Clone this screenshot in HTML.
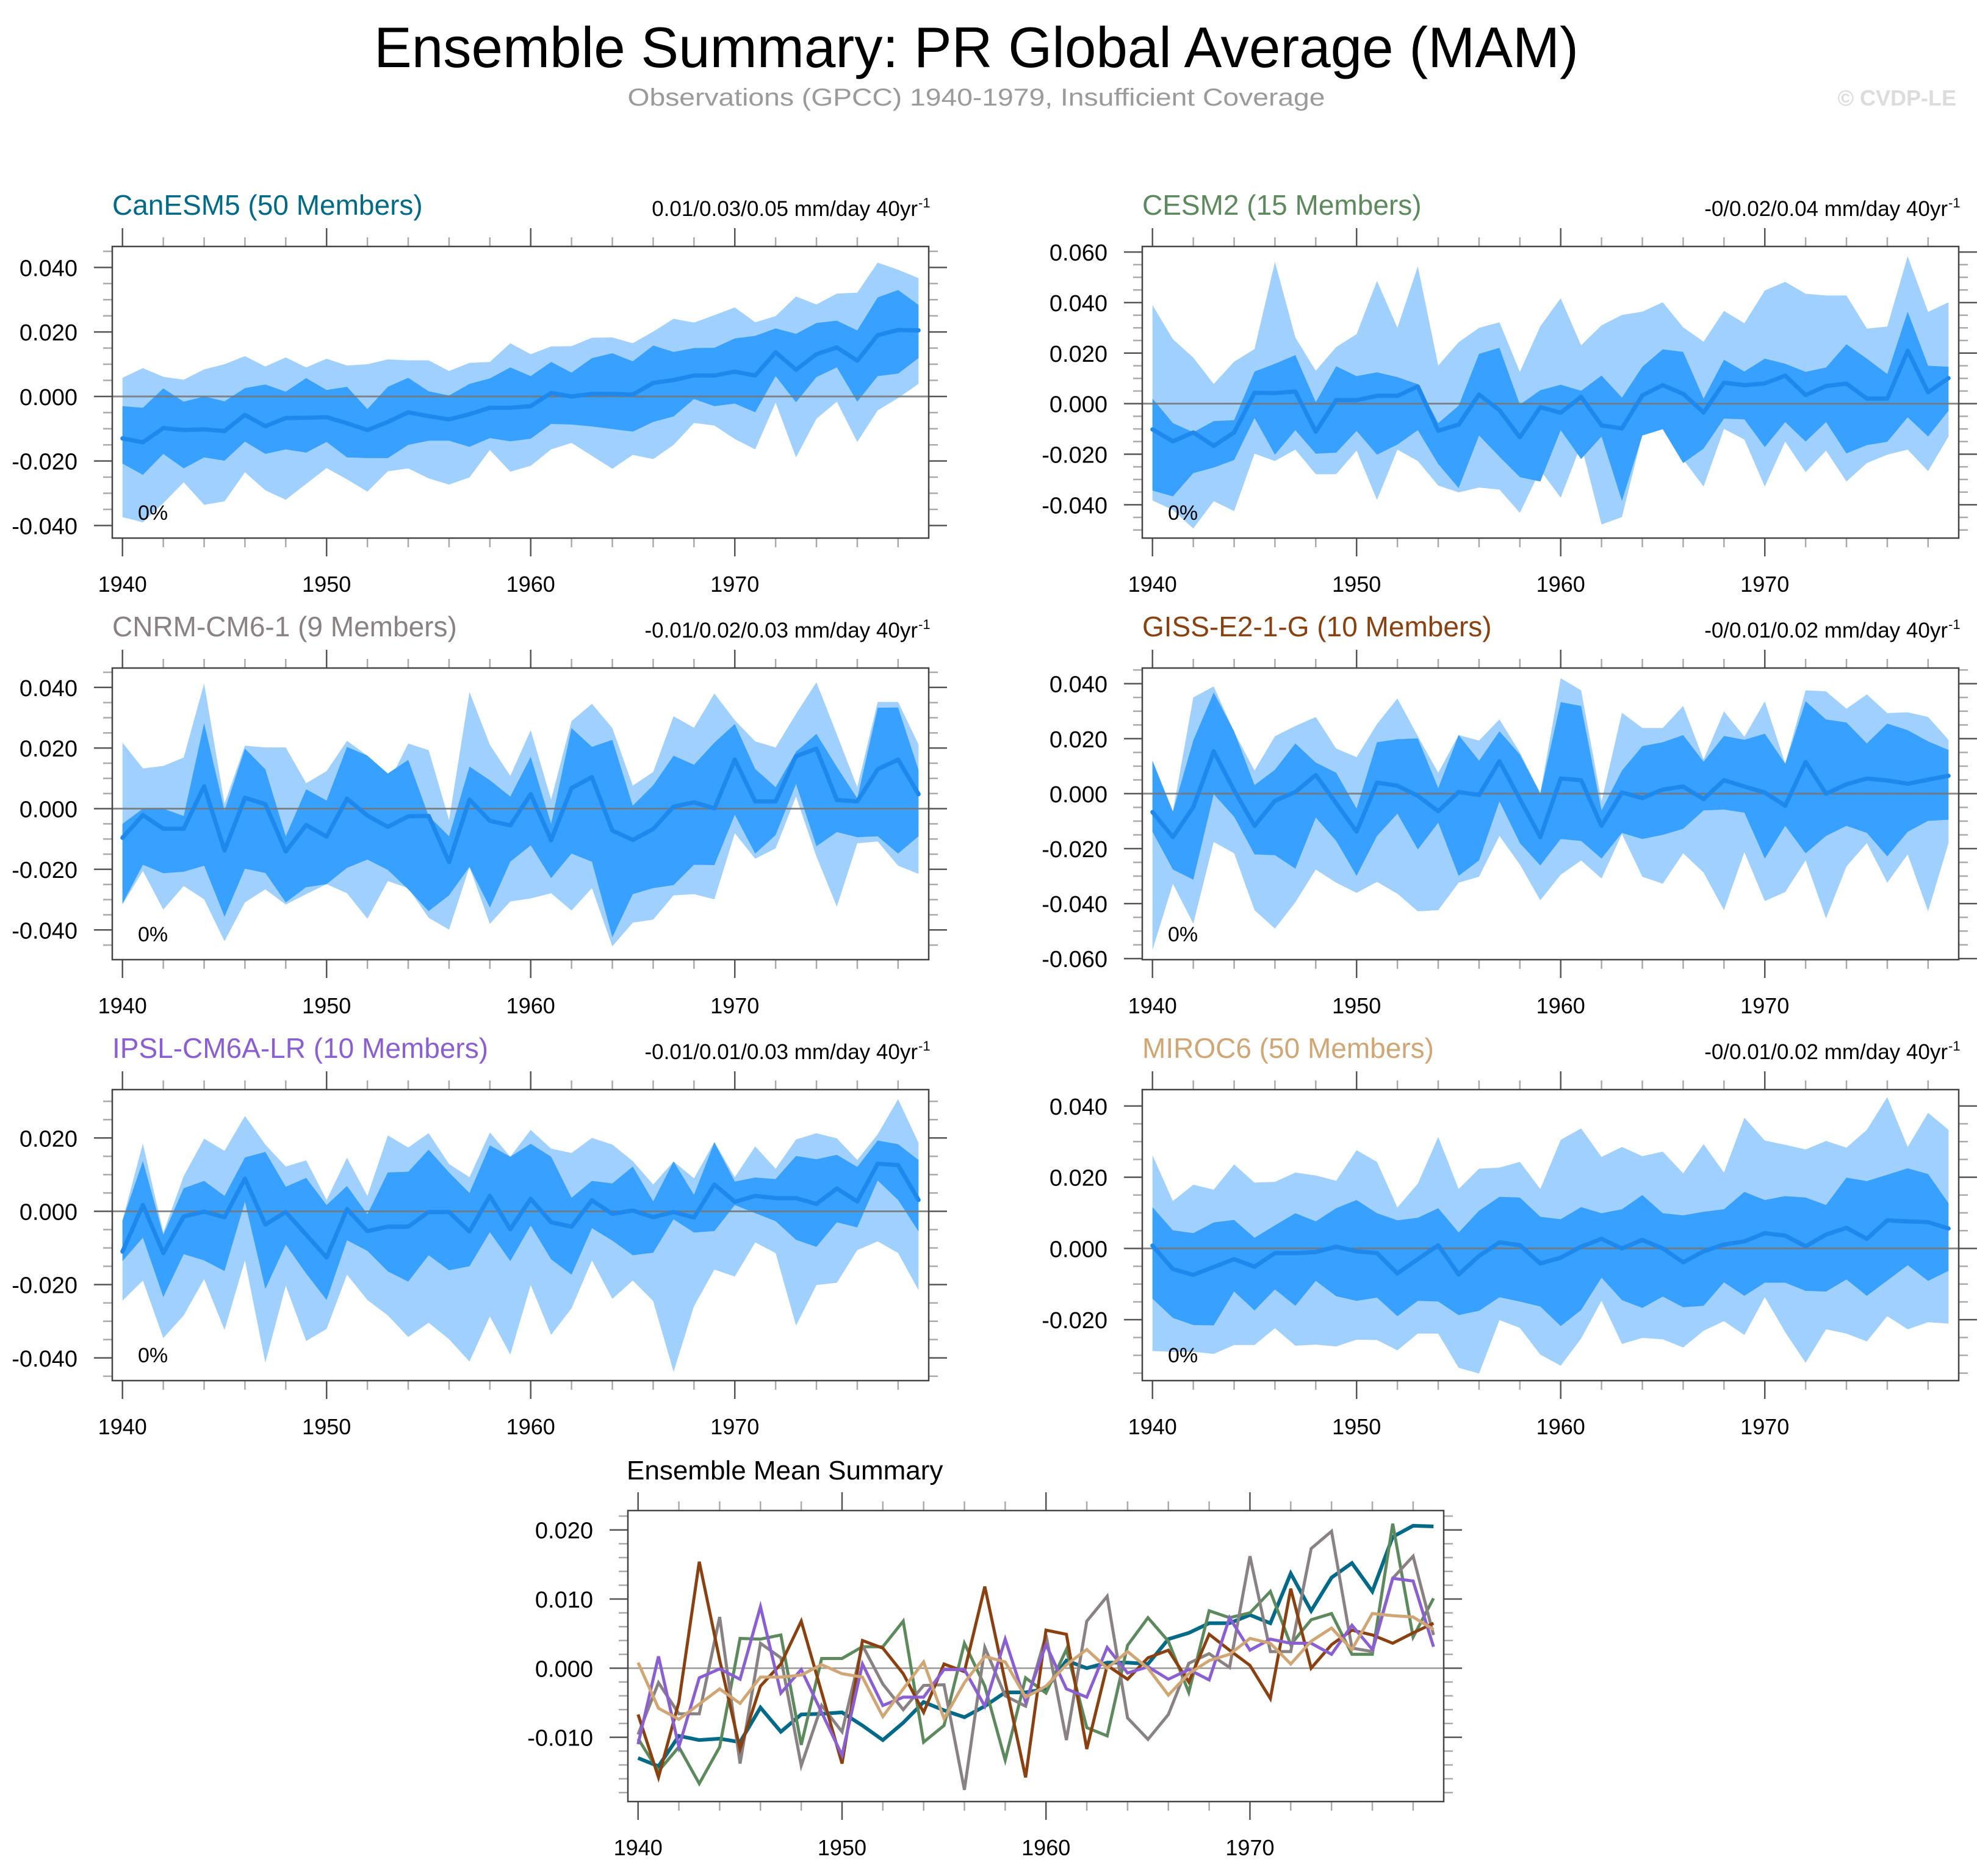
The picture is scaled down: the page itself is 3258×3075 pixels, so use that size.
<!DOCTYPE html>
<html><head><meta charset="utf-8">
<style>
html,body{margin:0;padding:0;background:#fff;}
svg{display:block;font-family:"Liberation Sans",Arial,sans-serif;}
</style></head>
<body>
<svg id="chart" width="3258" height="3075" viewBox="0 0 3258 3075" xmlns="http://www.w3.org/2000/svg">
<text x="1600" y="110" font-size="94" text-anchor="middle" textLength="1974" lengthAdjust="spacingAndGlyphs" fill="#000">Ensemble Summary: PR Global Average (MAM)</text>
<text x="1600" y="173" font-size="40" text-anchor="middle" textLength="1143" lengthAdjust="spacingAndGlyphs" fill="#9a9a9a">Observations (GPCC) 1940-1979, Insufficient Coverage</text>
<text x="3206" y="173" font-size="36" font-weight="bold" text-anchor="end" fill="#dcdcdc">© CVDP-LE</text>
</svg>
<script>
// ---------- data (values in units of 0.001 mm/day) ----------
const years = [1940,1941,1942,1943,1944,1945,1946,1947,1948,1949,1950,1951,1952,1953,1954,1955,1956,1957,1958,1959,1960,1961,1962,1963,1964,1965,1966,1967,1968,1969,1970,1971,1972,1973,1974,1975,1976,1977,1978,1979];

const canMean = [-13.0,-14.2,-9.8,-10.4,-10.2,-10.7,-5.7,-9.2,-6.7,-6.6,-6.4,-8.3,-10.4,-7.9,-4.9,-6.1,-7.1,-5.5,-3.5,-3.5,-3.0,1.1,0.0,0.8,0.8,0.6,4.2,5.1,6.5,6.5,7.7,6.5,13.7,8.3,13.1,15.2,11.1,19.0,20.6,20.5];
const canMax = [5.8,8.8,6.1,5.2,8.4,10.0,12.5,9.3,12.1,9.0,11.7,9.6,10.0,11.5,11.2,11.2,7.9,10.4,10.7,16.5,13.1,15.5,15.6,18.2,18.3,16.5,20.1,24.1,22.9,25.2,27.6,23.0,24.9,31.0,28.5,31.9,32.2,41.5,39.3,36.7];
const canP90 = [-3.0,-3.5,2.5,-1.6,0,-1.5,2.6,3.7,1.5,5.7,2.0,3.0,-3.9,3.0,5.8,1.6,0.3,3.9,5.6,9.0,6.3,10.7,7.4,11.9,13.4,10.9,15.8,13.8,15.0,15.1,18.0,18.8,21.1,19.4,22.8,23.5,20.5,30.7,33.0,28.4];
const canP10 = [-20.8,-24.3,-17.8,-22.3,-18.9,-19.9,-14.0,-17.8,-16.4,-17.4,-14.1,-18.9,-19.1,-19.1,-15.0,-13.7,-13.7,-15.6,-12.9,-13.9,-13.1,-8.5,-8.7,-9.3,-10.1,-10.9,-7.9,-6.2,-0.8,-3.0,-2.2,-4.9,6.3,-1.8,6.0,9.0,-1.6,6.3,7.1,11.9];
const canMin = [-37.4,-39.0,-33.1,-26.6,-33.6,-32.5,-23.5,-29.1,-32.0,-27.1,-22.2,-25.7,-29.5,-23.2,-22.3,-25.4,-27.3,-25.1,-16.6,-23.3,-21.5,-16.4,-14.4,-18.4,-22.4,-18.1,-19.4,-15.0,-8.2,-9.0,-13.2,-16.4,-1.9,-18.9,-6.9,-1.6,-14.1,-4.3,-0.5,3.9];

const cesmMean = [-10.2,-14.9,-11.4,-16.7,-11.4,4.3,4.2,4.8,-11.1,1.4,1.4,3.1,3.1,6.8,-10.7,-8.3,3.6,-2.6,-13.3,-1.4,-3.6,2.7,-8.6,-9.8,3.3,7.3,3.9,-3.5,8.3,7.3,8.0,11.1,3.4,7.0,7.9,2.0,2.0,20.9,4.5,10.1];
const cesmMax = [39.0,25.5,18.2,7.8,16.6,21.6,56.1,26.2,13.0,22.4,27.5,48.6,30.0,54.3,15.1,24.3,30.0,32.2,12.6,30.6,41.7,23.1,31.0,35.1,36.4,40.1,30.2,24.5,36.7,31.8,44.8,48.2,43.5,42.8,42.8,29.7,30.5,58.3,36.3,40.1];
const cesmP90 = [2.0,-7.7,-11.3,-6.9,-6.5,12.7,15.8,19.2,0.6,14.8,10.9,12.4,10.5,7.7,-7.7,-0.8,19.7,22.1,-0.4,5.3,7.5,5.1,11.1,2.4,14.6,21.5,20.5,2.0,17.4,12.7,17.8,15.8,12.6,14.3,23.5,17.8,11.7,36.4,15.0,14.6];
const cesmP10 = [-34.4,-36.7,-27.5,-25.3,-22.3,-5.7,-20.2,-10.5,-19.8,-19.4,-10.8,-20.2,-16.2,-10.5,-23.9,-33.4,-12.6,-21.0,-29.1,-30.8,-10.5,-21.9,-13.0,-38.5,-12.6,-10.1,-23.5,-17.8,-5.9,-6.2,-17.2,-7.3,-15.0,-7.3,-19.7,-16.4,-15.1,-5.4,-13.0,-2.8];
const cesmMin = [-38.3,-42.1,-49.4,-38.6,-42.5,-19.8,-22.7,-18.2,-27.9,-27.9,-18.6,-38.1,-18.2,-22.7,-32.4,-35.1,-33.2,-34.0,-43.2,-26.3,-37.2,-16.2,-47.8,-44.9,-12.1,-9.7,-22.1,-32.8,-10.0,-14.2,-32.8,-15.0,-27.1,-18.6,-30.8,-23.5,-20.2,-18.2,-26.7,-13.0];

const cnrmMean = [-9.6,-2.1,-6.6,-6.6,7.4,-13.8,3.6,1.5,-14.1,-5.4,-9.2,3.3,-2.3,-6.0,-2.5,-2.4,-17.6,3.0,-4.0,-5.5,4.8,-10.4,6.8,10.4,-7.2,-10.3,-6.7,0.7,2.1,0.1,16.2,2.4,2.4,17.3,19.8,2.9,2.4,13.0,16.2,4.8];
const cnrmMax = [21.8,13.3,14.1,16.9,41.3,1.7,20.8,20.2,20.2,8.4,12.4,22.4,17.5,8.1,21.5,19.3,-3.7,38.5,21.1,10.8,25.9,3.0,28.9,34.6,26.6,7.6,12.1,30.5,26.7,38.0,29.2,22.2,20.2,31.3,41.7,24.5,7.1,35.2,35.2,21.2];
const cnrmP90 = [-5.0,0,0,-2.4,28.2,-0.7,19.8,13.0,-9.1,6.4,2.7,20.4,17.5,11.6,16.1,-2.4,-9.1,13.9,9.4,4.0,17.1,-5.0,26.6,20.4,22.7,1.0,7.7,17.5,14.5,21.8,27.9,13.1,7.1,18.8,24.7,13.8,3.4,33.3,33.4,12.8];
const cnrmP10 = [-31.3,-18.5,-21.3,-20.8,-18.8,-35.6,-19.8,-21.2,-30.9,-25.9,-24.9,-19.5,-16.8,-20.2,-26.6,-33.8,-28.6,-19.2,-32.6,-17.5,-12.1,-22.9,-14.8,-17.5,-42.4,-28.2,-26.2,-25.2,-18.5,-18.6,-2.0,-14.8,-8.7,8.1,-12.4,-7.7,-9.4,-9.1,-14.8,-9.1];
const cnrmMin = [-31.6,-20.5,-33.3,-25.5,-29.9,-43.7,-30.9,-26.6,-31.6,-28.2,-24.9,-27.9,-36.3,-23.9,-26.2,-36.0,-39.9,-19.2,-38.0,-30.6,-29.6,-27.9,-33.6,-26.2,-45.4,-37.6,-36.6,-28.6,-28.2,-29.9,-8.1,-16.5,-13.1,4.0,-15.8,-32.3,-11.4,-10.8,-18.8,-21.5];

const gissMean = [-6.7,-15.8,-4.9,15.4,1.2,-11.7,-2.6,0.6,6.8,-3.5,-13.8,4.0,2.9,-0.8,-6.4,0.6,-0.5,11.8,-2.0,-15.8,5.5,4.9,-11.7,0.4,-1.6,1.5,2.6,-2.0,4.9,2.6,0.4,-4.4,11.5,0.0,3.4,5.5,4.8,3.6,5.1,6.5];
const gissMax = [12.0,-6.5,35.0,39.0,22.4,8.4,20.9,24.6,27.9,16.4,13.3,25.3,34.6,20.9,7.6,21.3,19.3,27.0,15.0,0.1,42.0,37.6,-2.8,29.4,23.9,23.9,31.9,12.4,29.9,20.7,33.6,10.9,37.6,37.2,30.9,36.1,29.3,29.6,27.9,19.6];
const gissP90 = [12.0,-6.5,19.4,36.8,22.7,3.1,8.7,18.3,11.3,7.6,-5.4,18.7,19.8,20.1,2.0,21.3,12.0,22.7,14.2,0.1,33.3,31.9,-6.1,8.4,17.3,18.7,21.3,11.6,21.0,19.6,21.8,10.9,33.6,27.0,25.9,18.3,25.5,23.1,19.0,15.9];
const gissP10 = [-13.9,-27.6,-31.3,-0.2,-8.4,-22.1,-22.4,-27.3,-8.7,-17.2,-29.9,-15.4,-7.3,-20.3,-10.6,-29.9,-24.3,-2.8,-18.0,-26.1,-16.5,-17.2,-23.6,-14.3,-16.5,-15.0,-12.8,-6.1,-5.8,-6.9,-23.6,-11.7,-21.7,-15.4,-11.7,-14.3,-22.8,-13.9,-9.9,-9.5];
const gissMin = [-56.9,-32.8,-47.3,-17.6,-21.7,-42.4,-49.1,-39.5,-27.6,-32.4,-36.1,-32.1,-36.4,-42.8,-42.4,-32.4,-30.2,-15.4,-25.8,-38.8,-29.5,-24.3,-30.9,-14.7,-30.2,-32.8,-21.7,-28.7,-42.4,-21.3,-39.1,-35.8,-24.3,-45.4,-26.5,-18.0,-32.4,-22.1,-42.8,-18.0];

const ipslMean = [-11.0,1.7,-11.4,-1.4,-0.1,-1.6,8.9,-3.6,-0.2,-6.4,-12.6,0.6,-5.4,-4.2,-4.2,-0.2,-0.2,-5.5,4.2,-4.9,3.4,-3.0,-4.2,3.0,-0.7,0.2,-1.6,-0.2,-1.7,7.3,2.6,4.2,3.6,3.6,2.0,6.2,2.7,13.0,12.6,3.1];
const ipslMax = [-2.5,18.5,-5.8,9.6,19.8,16.5,26.0,18.2,12.2,13.9,3.1,14.6,4.2,20.7,17.4,21.3,12.9,9.3,21.5,14.9,22.2,17.1,15.9,20.0,18.2,13.7,7.3,13.6,9.0,18.9,9.3,17.7,11.6,19.6,21.3,19.9,14.0,21.0,30.6,18.7];
const ipslP90 = [-2.5,13.7,-6.4,6.3,8.3,4.2,14.7,16.2,6.7,9.1,1.7,6.9,-0.8,10.6,10.8,16.8,10.6,5.0,18.0,14.9,18.4,14.9,3.7,8.3,7.6,12.2,2.7,13.6,4.5,18.8,8.1,9.2,8.8,15.1,14.2,15.4,12.1,19.3,18.3,14.0];
const ipslP10 = [-13.6,-7.2,-23.4,-11.7,-13.4,-16.3,2.6,-21.2,-9.1,-17.0,-24.2,-7.9,-10.8,-16.4,-19.2,-12.0,-16.1,-15.0,-5.7,-13.6,-3.9,-13.1,-17.3,-4.6,-8.0,-12.0,-11.3,-2.2,-5.8,-5.4,1.7,-0.5,-2.7,-7.8,-9.7,-3.0,-4.4,8.4,3.1,-5.5];
const ipslMin = [-24.4,-18.9,-34.6,-28.4,-18.5,-32.4,-13.4,-41.3,-20.3,-35.4,-32.1,-17.3,-24.2,-28.4,-34.3,-30.4,-34.9,-41.0,-28.7,-39.1,-20.1,-33.7,-26.5,-13.4,-23.9,-18.9,-24.5,-43.8,-25.9,-15.9,-17.8,-8.5,-11.4,-31.2,-20.1,-19.5,-10.6,-8.2,-11.4,-21.5];

const mirocMean = [0.8,-5.8,-7.4,-5.2,-3.0,-5.1,-1.3,-1.3,-1.0,0.5,-0.8,-1.3,-7.0,-3.0,0.9,-7.3,-2.1,1.7,0.9,-4.2,-2.6,0.5,2.7,0.0,2.4,0.0,-3.9,-0.8,1.1,2.0,4.3,3.6,0.6,3.9,5.8,2.7,7.9,7.6,7.4,5.6];
const mirocMax = [26.2,13.3,17.9,16.5,23.6,18.5,18.7,21.3,20.5,19.0,27.6,24.3,11.5,18.2,31.3,16.7,22.4,22.7,24.3,16.7,30.5,33.7,25.7,28.5,25.9,27.2,21.1,29.3,21.3,36.7,30.3,29.1,27.8,30.2,28.3,33.3,42.5,28.5,38.1,33.3];
const mirocP90 = [11.6,5.1,4.3,7.3,8.0,3.0,6.5,9.9,7.6,11.3,13.6,9.9,7.9,8.6,11.3,4.5,10.6,14.5,14.3,8.9,8.2,11.6,9.9,11.0,15.0,9.9,9.3,10.3,11.0,15.9,13.6,14.7,14.3,12.2,19.9,18.9,20.7,22.5,20.9,12.7];
const mirocP10 = [-14.1,-19.5,-21.5,-21.6,-12.1,-17.4,-11.5,-16.1,-9.1,-13.4,-14.7,-13.8,-19.0,-14.7,-14.9,-18.7,-17.5,-13.7,-14.9,-16.3,-21.8,-17.3,-8.2,-14.5,-16.7,-13.5,-16.5,-16.1,-9.5,-13.3,-9.6,-9.6,-11.9,-12.1,-8.7,-13.3,-9.0,-4.7,-9.1,-6.3];
const mirocMin = [-28.8,-29.0,-29.0,-29.6,-27.1,-27.1,-22.4,-27.3,-27.0,-27.5,-25.6,-25.7,-28.6,-23.9,-23.9,-33.5,-35.1,-20.1,-22.3,-29.8,-32.9,-25.3,-14.7,-26.8,-25.1,-25.5,-27.8,-23.1,-20.4,-24.3,-13.7,-23.5,-32.1,-22.7,-23.9,-26.1,-19.0,-22.7,-20.7,-21.1];

const modelNames = ["CanESM5 (50 Members)","CESM2 (15 Members)","CNRM-CM6-1 (9 Members)","GISS-E2-1-G (10 Members)","IPSL-CM6A-LR (10 Members)","MIROC6 (50 Members)"];
const trendLabels = ["0.01/0.03/0.05 mm/day 40yr","-0/0.02/0.04 mm/day 40yr","-0.01/0.02/0.03 mm/day 40yr","-0/0.01/0.02 mm/day 40yr","-0.01/0.01/0.03 mm/day 40yr","-0/0.01/0.02 mm/day 40yr"];
const yTicks1 = [-40,-20,0,20,40];
const yTicks2 = [-40,-20,0,20,40,60];
const yTicks3 = [-40,-20,0,20,40];
const yTicks4 = [-60,-40,-20,0,20,40];
const yTicks5 = [-40,-20,0,20];
const yTicks6 = [-20,0,20,40];
const yTicksMean = [-10,0,10,20];
const xTickLabels = [1940,1950,1960,1970];

// ---------- drawing ----------
const NS = "http://www.w3.org/2000/svg";
const svg = document.getElementById("chart");
const UNIT = 0.001;
function el(tag, attrs, parent) {
  const e = document.createElementNS(NS, tag);
  for (const k in attrs) e.setAttribute(k, attrs[k]);
  (parent || svg).appendChild(e);
  return e;
}
function fmt(v) { return (v * UNIT).toFixed(3); }

function axes(g, P, yTicks, minorStep) {
  const X = yr => P.x0 + (yr - 1939.5) / 40 * (P.x1 - P.x0);
  const Y = v => P.y1 - (v - P.ymin) / (P.ymax - P.ymin) * (P.y1 - P.y0);
  for (let yr = 1940; yr <= 1978; yr += 2) {
    const major = (yr % 10 === 0);
    const L = major ? 30 : 15;
    const c = major ? "#555" : "#aaa";
    const t1 = el("line", {x1: X(yr), x2: X(yr), y1: P.y0, y2: P.y0 - L, stroke: c, "stroke-width": 2.5}, g);
    
    
    const t2 = el("line", {x1: X(yr), x2: X(yr), y1: P.y1, y2: P.y1 + L, stroke: c, "stroke-width": 2.5}, g);
    
    
  }
  xTickLabels.forEach(yr => {
    const t = el("text", {x: X(yr), y: P.y1 + 88, "font-size": 36, "text-anchor": "middle", fill: "#000"}, g);
    t.textContent = yr;
    
    
  });
  const lo = Math.ceil(P.ymin / minorStep) * minorStep;
  for (let v = lo; v <= P.ymax; v += minorStep) {
    const isMajor = yTicks.some(t => Math.abs(t - v) < 1e-6);
    const L = isMajor ? 30 : 15;
    const c = isMajor ? "#555" : "#aaa";
    const a = el("line", {x1: P.x0, x2: P.x0 - L, y1: Y(v), y2: Y(v), stroke: c, "stroke-width": 2.5}, g);
    
    
    const b = el("line", {x1: P.x1, x2: P.x1 + L, y1: Y(v), y2: Y(v), stroke: c, "stroke-width": 2.5}, g);
    
    
  }
  yTicks.forEach(v => {
    const t = el("text", {x: P.x0 - 57, y: Y(v) + 14, "font-size": 38, "text-anchor": "end", fill: "#000"}, g);
    t.textContent = fmt(v);
    
    
  });
  return {X, Y};
}

function panel(i, P, yTicks, mean, mx, p90, p10, mn, color) {
  const g = el("g", {});
  
  
  const {X, Y} = axes(g, P, yTicks, 5);
  const pts = (arr) => arr.map((v, k) => X(years[k]) + "," + Y(v));
  const light = el("polygon", {points: pts(mx).concat(pts(mn).reverse()).join(" "), fill: "#a0d0fe"}, g);
  
  
  const dark = el("polygon", {points: pts(p90).concat(pts(p10).reverse()).join(" "), fill: "#38a0fe"}, g);
  
  
  const z = el("line", {x1: P.x0, x2: P.x1, y1: Y(0), y2: Y(0), stroke: "#777", "stroke-width": 3, opacity: 0.85}, g);
  
  
  const ml = el("polyline", {points: pts(mean).join(" "), fill: "none", stroke: "#1e88ec", "stroke-width": 7, "stroke-linejoin": "round", "stroke-linecap": "round"}, g);
  
  
  const fr = el("rect", {x: P.x0, y: P.y0, width: P.x1 - P.x0, height: P.y1 - P.y0, fill: "none", stroke: "#444", "stroke-width": 2.5}, g);
  
  
  const pc = el("text", {x: P.x0 + 42, y: P.y1 - 30, "font-size": 34, fill: "#000"}, g);
  pc.textContent = "0%";
  
  
  const tt = el("text", {x: P.x0, y: P.y0 - 52, "font-size": 46, fill: color}, g);
  tt.textContent = modelNames[i];
  
  
  const st = el("text", {x: P.x1 - 18, y: P.y0 - 50, "font-size": 35, "text-anchor": "end", fill: "#000"}, g);
  st.textContent = trendLabels[i];
  
  
  const sup = el("text", {x: P.x1 - 17, y: P.y0 - 64, "font-size": 22, "text-anchor": "start", fill: "#000"}, g);
  sup.textContent = "-1";
  
  
}

const colors = ["#006a88", "#5c8a5c", "#8a8282", "#8b4010", "#8a5fd3", "#d0a674"];
const L = {x0: 184, x1: 1522}, R = {x0: 1872, x1: 3210};
panel(0, {...L, y0: 404, y1: 882, ymin: -43.9, ymax: 46.5}, yTicks1, canMean, canMax, canP90, canP10, canMin, colors[0]);
panel(1, {...R, y0: 404, y1: 882, ymin: -53.2, ymax: 62.2}, yTicks2, cesmMean, cesmMax, cesmP90, cesmP10, cesmMin, colors[1]);
panel(2, {...L, y0: 1095, y1: 1573, ymin: -49.8, ymax: 46.4}, yTicks3, cnrmMean, cnrmMax, cnrmP90, cnrmP10, cnrmMin, colors[2]);
panel(3, {...R, y0: 1095, y1: 1573, ymin: -60.4, ymax: 45.7}, yTicks4, gissMean, gissMax, gissP90, gissP10, gissMin, colors[3]);
panel(4, {...L, y0: 1786, y1: 2263, ymin: -46.2, ymax: 33.2}, yTicks5, ipslMean, ipslMax, ipslP90, ipslP10, ipslMin, colors[4]);
panel(5, {...R, y0: 1786, y1: 2263, ymin: -37.1, ymax: 44.6}, yTicks6, mirocMean, mirocMax, mirocP90, mirocP10, mirocMin, colors[5]);

(function () {
  const P = {x0: 1029, x1: 2366, y0: 2476, y1: 2953, ymin: -19.3, ymax: 22.8};
  const g = el("g", {});
  
  
  const {X, Y} = axes(g, P, yTicksMean, 2);
  const z = el("line", {x1: P.x0, x2: P.x1, y1: Y(0), y2: Y(0), stroke: "#999", "stroke-width": 2.5}, g);
  
  
  const series = [canMean, cesmMean, cnrmMean, gissMean, ipslMean, mirocMean];
  const widths = [6, 5, 5, 5, 5, 5];
  series.forEach((s, i) => {
    const pl = el("polyline", {points: s.map((v, k) => X(years[k]) + "," + Y(v)).join(" "), fill: "none", stroke: colors[i], "stroke-width": widths[i], "stroke-linejoin": "miter"}, g);
    
    
  });
  const fr = el("rect", {x: P.x0, y: P.y0, width: P.x1 - P.x0, height: P.y1 - P.y0, fill: "none", stroke: "#444", "stroke-width": 2.5}, g);
  
  
  const tt = el("text", {x: P.x0 - 2, y: P.y0 - 51, "font-size": 44, fill: "#000"}, g);
  tt.textContent = "Ensemble Mean Summary";
  
  
})();
</script>
</body></html>
